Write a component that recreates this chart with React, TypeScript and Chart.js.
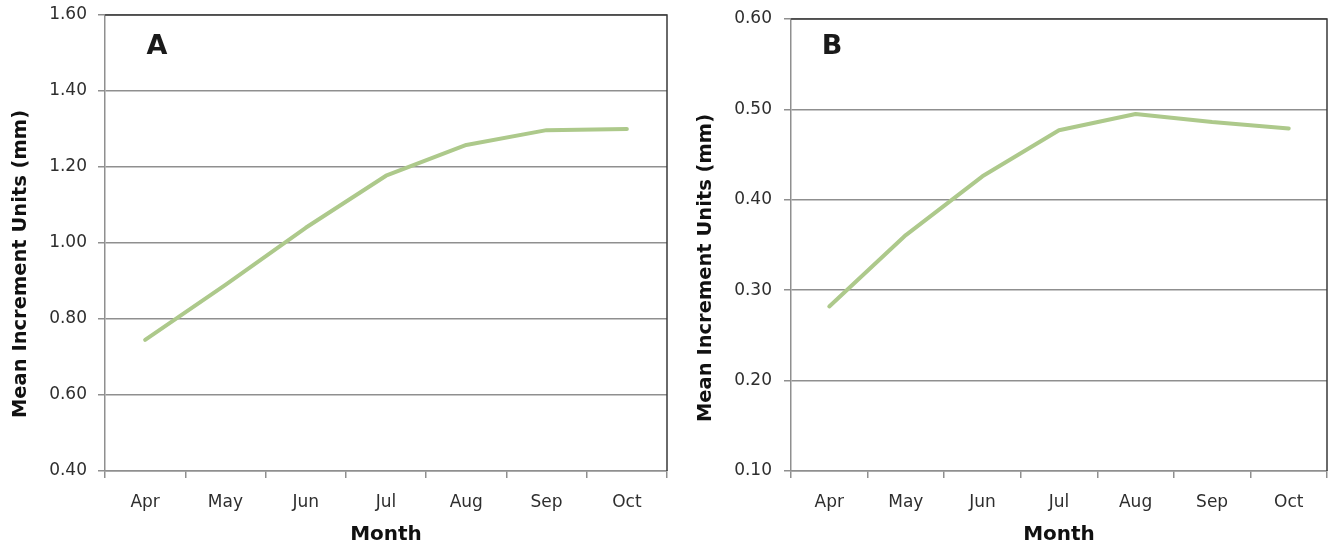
import React, { useEffect, useRef } from "react";
import { Chart, registerables } from "chart.js";

Chart.register(...registerables);

const months = ["Apr", "May", "Jun", "Jul", "Aug", "Sep", "Oct"];
const seriesA = [0.745, 0.89, 1.04, 1.177, 1.258, 1.297, 1.3];
const seriesB = [0.282, 0.361, 0.426, 0.477, 0.495, 0.486, 0.479];
const yTitle = "Mean Increment Units (mm)";
const xTitle = "Month";

const FONT = '"DejaVu Sans", "Liberation Sans", sans-serif';
const GRID = "#8f8f8f";
const LINE = "#adc98b";

const panelPlugin = {
  id: "panel",
  afterDraw(chart: any, _args: any, opts: any) {
    const { ctx, chartArea: a } = chart;
    ctx.save();
    ctx.strokeStyle = "#3a3a3a";
    ctx.lineWidth = 1.5;
    ctx.beginPath();
    ctx.moveTo(a.left, a.top);
    ctx.lineTo(a.right, a.top);
    ctx.lineTo(a.right, a.bottom);
    ctx.stroke();
    ctx.fillStyle = "#1a1a1a";
    ctx.font = `bold 27px ${FONT}`;
    ctx.textBaseline = "middle";
    ctx.textAlign = "center";
    ctx.fillText(opts.letter, a.left + opts.dx, a.top + opts.dy);
    // rotated y-axis title
    ctx.translate(opts.tx, opts.ty);
    ctx.rotate(-Math.PI / 2);
    ctx.font = `bold 19.5px ${FONT}`;
    ctx.fillStyle = "#111111";
    ctx.fillText(opts.title, 0, 0);
    ctx.restore();
  },
};

type PanelProps = {
  data: number[];
  min: number;
  max: number;
  step: number;
  letter: string;
  dx: number;
  dy: number;
  left: number;
  width: number;
  yWidth: number;
  padTop: number;
  padRight: number;
  tx: number;
  ty: number;
  tickPad: number;
};

function Panel(p: PanelProps) {
  const ref = useRef<HTMLCanvasElement>(null);
  useEffect(() => {
    if (!ref.current) return;
    const chart = new Chart(ref.current, {
      type: "line",
      data: {
        labels: months,
        datasets: [
          {
            data: p.data,
            borderColor: LINE,
            borderWidth: 4,
            borderCapStyle: "round",
            borderJoinStyle: "round",
            pointRadius: 0,
            tension: 0,
            fill: false,
          },
        ],
      },
      options: {
        responsive: false,
        animation: false,
        layout: { padding: { top: p.padTop, right: p.padRight, left: 0, bottom: 0 } },
        plugins: {
          legend: { display: false },
          tooltip: { enabled: false },
          panel: { letter: p.letter, dx: p.dx, dy: p.dy, tx: p.tx, ty: p.ty, title: yTitle },
        } as any,
        scales: {
          x: {
            offset: true,
            grid: {
              offset: true,
              drawOnChartArea: false,
              drawTicks: true,
              tickLength: 7,
              color: GRID,
              lineWidth: 1.5,
            },
            border: { color: GRID, width: 1.5 },
            ticks: {
              color: "#2e2e2e",
              font: { family: FONT, size: 17 },
              padding: 14,
            },
            title: {
              display: true,
              text: xTitle,
              color: "#111111",
              font: { family: FONT, size: 20, weight: "bold", lineHeight: 1.1 },
              padding: { top: 0, bottom: 0 },
            },
            afterFit: (s: any) => {
              s.height = 75;
              s.paddingLeft = 0;
              s.paddingRight = 0;
            },
          },
          y: {
            min: p.min,
            max: p.max,
            grid: {
              color: GRID,
              lineWidth: 1.5,
              tickLength: 7,
              drawTicks: true,
            },
            border: { color: GRID, width: 1.5 },
            ticks: {
              stepSize: p.step,
              color: "#2e2e2e",
              font: { family: FONT, size: 17 },
              padding: p.tickPad,
              callback: (v: any) => Number(v).toFixed(2),
            },
            title: { display: false },
            afterFit: (s: any) => {
              s.width = p.yWidth;
              s.paddingTop = 0;
              s.paddingBottom = 0;
            },
          },
        },
      },
      plugins: [panelPlugin],
    });
    return () => chart.destroy();
  }, []);
  return (
    <canvas
      ref={ref}
      width={p.width}
      height={546}
      style={{ position: "absolute", left: p.left, top: 0, width: p.width, height: 546, display: "block" }}
    />
  );
}

export default function App() {
  return (
    <div style={{ position: "absolute", left: 0, top: 0, width: 1337, height: 546, background: "#ffffff", overflow: "hidden" }}>
      <Panel
        data={seriesA}
        min={0.4}
        max={1.6}
        step={0.2}
        letter="A"
        dx={52}
        dy={32}
        left={0}
        width={675}
        yWidth={105}
        padTop={15}
        padRight={8}
        tx={21}
        ty={264}
        tickPad={11}
      />
      <Panel
        data={seriesB}
        min={0.1}
        max={0.6}
        step={0.1}
        letter="B"
        dx={41}
        dy={28}
        left={675}
        width={662}
        yWidth={116}
        padTop={19}
        padRight={10}
        tx={31}
        ty={268}
        tickPad={12}
      />
    </div>
  );
}
